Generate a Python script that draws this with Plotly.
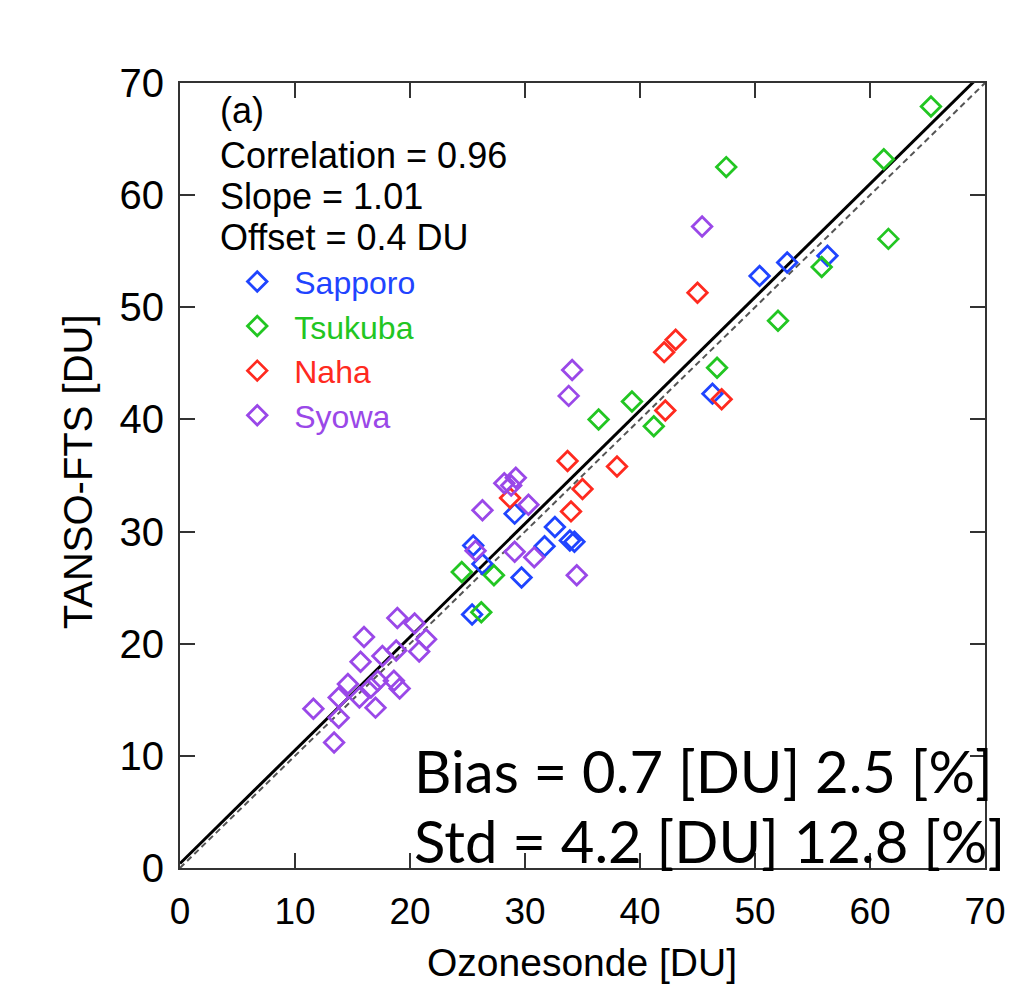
import plotly.graph_objects as go

# ---------------- data ----------------
sapporo_x = [56.3, 52.8, 50.4, 46.3, 29.1, 32.6, 33.9, 34.3, 31.7, 25.5, 26.3, 29.7, 25.4]
sapporo_y = [54.6, 54.0, 52.8, 42.3, 31.6, 30.4, 29.2, 29.1, 28.7, 28.75, 27.1, 25.9, 22.6]

tsukuba_x = [65.3, 61.2, 47.5, 61.6, 55.8, 52.0, 46.7, 39.3, 36.4, 41.2, 24.5, 27.3, 26.2]
tsukuba_y = [67.9, 63.2, 62.5, 56.1, 53.6, 48.8, 44.6, 41.6, 40.0, 39.4, 26.4, 26.1, 22.8]

naha_x = [45.0, 43.1, 42.1, 42.2, 47.1, 33.7, 38.0, 35.0, 28.7, 34.0]
naha_y = [51.3, 47.1, 46.0, 40.8, 41.8, 36.3, 35.8, 33.8, 33.0, 31.8]

syowa_x = [45.4, 34.1, 33.8, 29.2, 28.2, 28.8, 30.3, 26.3, 25.7, 29.1, 30.8, 34.5,
           18.9, 20.4, 16.0, 21.4, 20.8, 18.8, 17.6, 15.7, 18.6, 19.1, 16.6, 17.2,
           14.6, 13.8, 15.6, 11.6, 17.0, 13.8, 13.4]
syowa_y = [57.2, 44.4, 42.1, 34.8, 34.3, 34.1, 32.4, 31.9, 28.3, 28.2, 27.7, 26.1,
           22.3, 21.8, 20.6, 20.4, 19.3, 19.4, 18.9, 18.4, 16.7, 16.0, 16.1, 16.7,
           16.4, 15.2, 15.2, 14.2, 14.3, 13.4, 11.2]

stations = ["Sapporo", "Tsukuba", "Naha", "Syowa"]
station_colors = ["#1f44ff", "#22c622", "#ff2a1f", "#9a48e8"]

slope = 1.01
offset = 0.4
axis_range = [0, 70]
ticks = [0, 10, 20, 30, 40, 50, 60, 70]

stats_lines = ["(a)", "Correlation = 0.96", "Slope = 1.01", "Offset = 0.4 DU"]
bias_lines = ["Bias = 0.7 [DU] 2.5 [%]", "Std = 4.2 [DU] 12.8 [%]"]

# ---------------- figure ----------------
fig = go.Figure()

# 1:1 line (dashed) and regression line (solid)
fig.add_trace(go.Scatter(x=axis_range, y=axis_range, mode="lines",
                         line=dict(color="#555555", width=2, dash="6px,4px"),
                         showlegend=False, hoverinfo="skip"))
fit_y = [slope * v + offset for v in axis_range]
fig.add_trace(go.Scatter(x=axis_range, y=fit_y, mode="lines",
                         line=dict(color="black", width=3),
                         showlegend=False, hoverinfo="skip"))

all_x = [sapporo_x, tsukuba_x, naha_x, syowa_x]
all_y = [sapporo_y, tsukuba_y, naha_y, syowa_y]
for name, col, xs, ys in zip(stations, station_colors, all_x, all_y):
    fig.add_trace(go.Scatter(
        x=xs, y=ys, mode="markers",
        name=f'<span style="color:{col}">{name}</span>',
        marker=dict(symbol="diamond-open", size=15, color=col,
                    line=dict(width=2.8, color=col)),
    ))

font_main = "Liberation Sans, Arial, sans-serif"

axis_common = dict(range=axis_range, tickvals=ticks, ticks="inside", ticklen=15,
                   tickwidth=2, tickcolor="#333333", showline=True, linewidth=2,
                   linecolor="#333333", mirror="ticks", showgrid=False, zeroline=False)

fig.update_layout(
    width=1018, height=988,
    margin=dict(l=180, r=31, t=83, b=120),
    paper_bgcolor="white", plot_bgcolor="white",
    xaxis=dict(**axis_common, ticklabelstandoff=10,
               tickfont=dict(family=font_main, size=37, color="black")),
    yaxis=dict(**axis_common, ticklabelstandoff=6,
               tickfont=dict(family=font_main, size=40, color="black")),
    showlegend=True,
    legend=dict(x=0.05, y=0.782, xanchor="left", yanchor="top",
                bgcolor="rgba(0,0,0,0)", font=dict(family=font_main, size=32),
                tracegroupgap=0, itemsizing="trace", itemwidth=64),
)

# statistics text in upper-left
stat_y = [110, 155, 197, 238]
for txt, py in zip(stats_lines, stat_y):
    fig.add_annotation(text=txt, xref="paper", yref="paper",
                       x=(218 - 180) / 807, y=(868 - py) / 785,
                       xanchor="left", yanchor="middle", showarrow=False,
                       font=dict(family=font_main, size=36, color="black"))

# Bias / Std text
for txt, py in zip(bias_lines, [770, 840]):
    fig.add_annotation(text=txt, xref="paper", yref="paper",
                       x=(413 - 180) / 807, y=(868 - py) / 785,
                       xanchor="left", yanchor="middle", showarrow=False,
                       font=dict(family="Lato, Open Sans, sans-serif", size=58, color="black"))

# axis titles
fig.add_annotation(text="Ozonesonde [DU]", xref="paper", yref="paper",
                   x=(583 - 180) / 807, y=(868 - 962) / 785,
                   xanchor="center", yanchor="middle", showarrow=False,
                   font=dict(family=font_main, size=39, color="black"))
fig.add_annotation(text="TANSO-FTS [DU]", xref="paper", yref="paper",
                   x=(78 - 180) / 807, y=(868 - 472) / 785, textangle=-90,
                   xanchor="center", yanchor="middle", showarrow=False,
                   font=dict(family=font_main, size=40, color="black"))

fig.write_html("out.html")
